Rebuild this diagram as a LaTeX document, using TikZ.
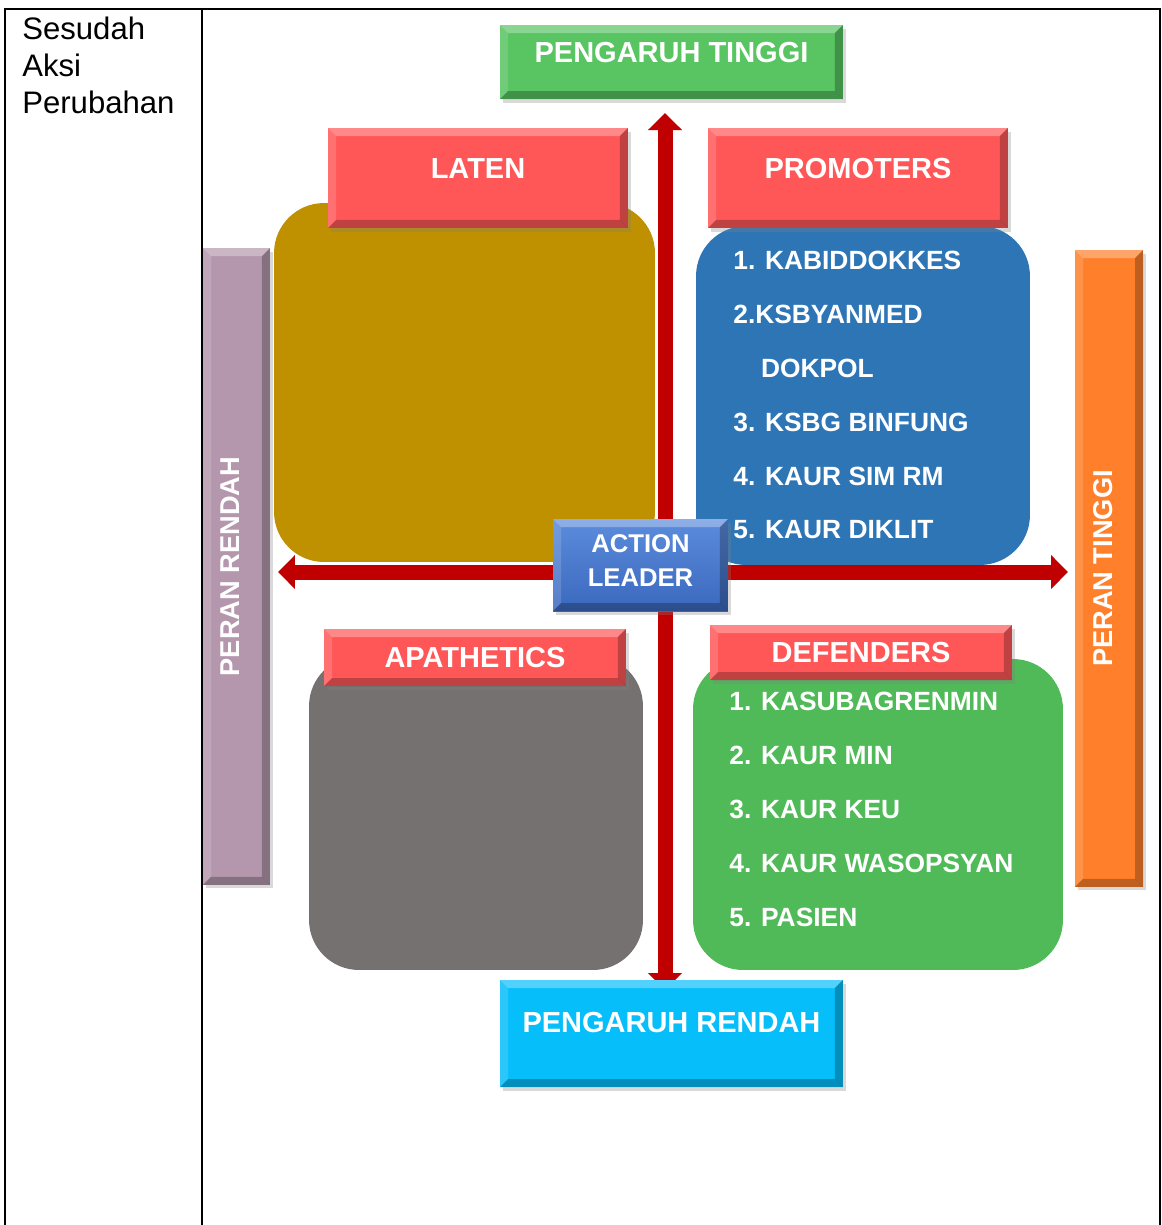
\documentclass[tikz,border=0pt]{standalone}
\usepackage{fontspec}
\setmainfont{Liberation Sans}
\usetikzlibrary{arrows.meta,shadows}

\definecolor{hijau}{HTML}{58C462}
\definecolor{merah}{HTML}{FF5757}
\definecolor{emas}{HTML}{BF9000}
\definecolor{biru}{HTML}{2E75B6}
\definecolor{abu}{HTML}{767171}
\definecolor{daun}{HTML}{50BA58}
\definecolor{langit}{HTML}{06BEFA}
\definecolor{ungu}{HTML}{B497AC}
\definecolor{jingga}{HTML}{FF7F2A}
\definecolor{panah}{HTML}{C00000}
\definecolor{pemimpinatas}{HTML}{5C8CDC}
\definecolor{pemimpinbawah}{HTML}{3A68BE}

\begin{document}
\begin{tikzpicture}[x=0.02cm,y=-0.02cm,
  bevel/.style={path picture={
    \fill[white,opacity=.3] (path picture bounding box.north west) -- (path picture bounding box.north east)
      -- ([shift={(-8,8)}]path picture bounding box.north east) -- ([shift={(8,8)}]path picture bounding box.north west) -- cycle;
    \fill[white,opacity=.15] (path picture bounding box.north west) -- (path picture bounding box.south west)
      -- ([shift={(8,-8)}]path picture bounding box.south west) -- ([shift={(8,8)}]path picture bounding box.north west) -- cycle;
    \fill[black,opacity=.25] (path picture bounding box.north east) -- (path picture bounding box.south east)
      -- ([shift={(-8,-8)}]path picture bounding box.south east) -- ([shift={(-8,8)}]path picture bounding box.north east) -- cycle;
    \fill[black,opacity=.25] (path picture bounding box.south west) -- (path picture bounding box.south east)
      -- ([shift={(-8,-8)}]path picture bounding box.south east) -- ([shift={(8,-8)}]path picture bounding box.south west) -- cycle;}},
  header/.style={bevel,fill=merah,text=white,inner sep=0pt,font=\bfseries\fontsize{16.5}{19}\selectfont,
    text height=11.8pt,text depth=0pt,drop shadow={opacity=.3,shadow xshift=1.5pt,shadow yshift=-2pt}},
  sidebar/.style={bevel,text=white,inner sep=0pt,minimum height=12.74cm,font=\bfseries\fontsize{15.5}{18}\selectfont,
    drop shadow={opacity=.3,shadow xshift=1.5pt,shadow yshift=-2pt}},
  quad/.style={rounded corners=1cm,inner sep=0pt},
  item/.style={anchor=west,text=white,inner sep=0pt,font=\bfseries\fontsize{15}{18}\selectfont},
  axis/.style={draw=panah,line width=0.3cm,{Triangle[width=0.66cm,length=0.34cm]}-{Triangle[width=0.66cm,length=0.34cm]}}]

  \useasboundingbox (0,0) rectangle (1161,1225);

  % tabel
  \draw[line width=1.1pt] (5,1225) -- (5,9) -- (1160,9) -- (1160,1225);
  \draw[line width=1.1pt] (202,9) -- (202,1225);
  \node[anchor=north west,align=left,inner sep=0pt,font=\fontsize{17.7}{21}\selectfont] (judul) at (22,17) {Sesudah\\Aksi\\Perubahan};

  % kuadran
  \node[quad,fill=emas,minimum width=7.62cm,minimum height=7.18cm] (laten) at (464.5,382.5) {};
  \node[quad,fill=biru,minimum width=6.68cm,minimum height=6.78cm] (promot) at (863,395.5) {};
  \node[quad,fill=abu,minimum width=6.68cm,minimum height=6.28cm] (apati) at (476,813) {};
  \node[quad,fill=daun,minimum width=7.4cm,minimum height=6.22cm] (defend) at (878,814.5) {};

  \foreach \txt [count=\i] in {1. KABIDDOKKES, 2.KSBYANMED, \hspace*{1.05em}DOKPOL, 3. KSBG BINFUNG, 4. KAUR SIM RM, 5. KAUR DIKLIT}
    \node[item] (prom\i) at (733,{260+54*(\i-1)}) {\txt};
  \foreach \txt [count=\i] in {1. KASUBAGRENMIN, 2. KAUR MIN, 3. KAUR KEU, 4. KAUR WASOPSYAN, 5. PASIEN}
    \node[item] (def\i) at (729,{701+54*(\i-1)}) {\txt};

  % judul kuadran
  \node[header,minimum width=6cm,minimum height=2cm,text depth=0.4cm] (hlaten) at (478,178) {LATEN};
  \node[header,minimum width=6cm,minimum height=2cm,text depth=0.4cm] (hpromot) at (858,178) {PROMOTERS};
  \node[header,minimum width=6.04cm,minimum height=1.14cm] (hapati) at (475,657.5) {APATHETICS};
  \node[header,minimum width=6.04cm,minimum height=1.1cm] (hdefend) at (861,652.5) {DEFENDERS};

  % sumbu
  \coordinate (atas) at (665,113);
  \coordinate (bawah) at (665,990);
  \coordinate (kiri) at (278,572);
  \coordinate (kanan) at (1068,572);
  \draw[axis] (bawah) -- (atas);
  \draw[axis] (kiri) -- (kanan);

  \node[header,fill=hijau,minimum width=6.86cm,minimum height=1.48cm,text depth=0.4cm] (tinggi) at (671.5,62) {PENGARUH TINGGI};
  \node[header,fill=langit,minimum width=6.86cm,minimum height=2.14cm,text depth=0.46cm] (rendah) at (671.5,1033.5) {PENGARUH RENDAH};
  \node[sidebar,fill=ungu,minimum width=1.34cm] (prendah) at (236.5,566.5) {\rotatebox{90}{\rule[-7.4pt]{0pt}{0pt}PERAN RENDAH}};
  \node[sidebar,fill=jingga,minimum width=1.36cm] (ptinggi) at (1109,568.5) {\rotatebox{90}{\rule[-7.4pt]{0pt}{0pt}PERAN TINGGI}};

  \node[bevel,top color=pemimpinatas,bottom color=pemimpinbawah,
    text=white,align=center,inner sep=0pt,minimum width=3.5cm,minimum height=1.84cm,
    font=\bfseries\fontsize{14.6}{19.3}\selectfont,drop shadow={opacity=.3,shadow xshift=1.5pt,shadow yshift=-2pt}] (leader) at (640.5,565) {ACTION\\LEADER\\[-13.7pt]\mbox{}};
\end{tikzpicture}
\end{document}
